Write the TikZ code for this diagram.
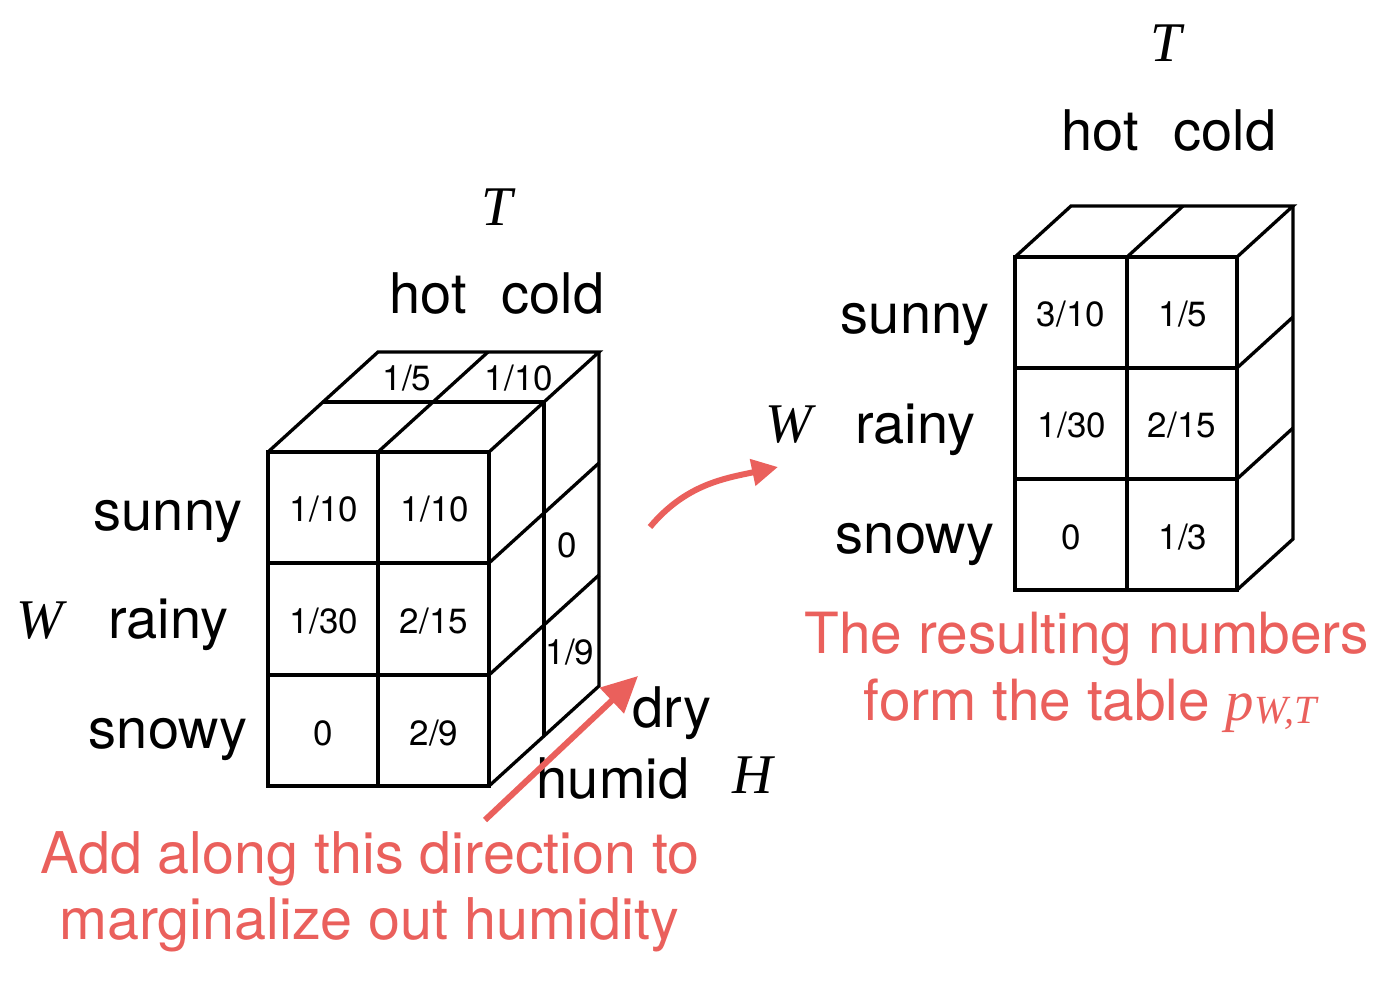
\documentclass[tikz,border=0pt]{standalone}
\usepackage{fontspec}
\setmainfont{TeX Gyre Heros}
\newfontfamily\serifit{Liberation Serif}
\usetikzlibrary{arrows.meta}
\definecolor{redc}{RGB}{234,96,92}
\tikzset{
  grid/.style={line width=3.3pt, black},
  cell/.style={font=\fontsize{35}{40}\selectfont, inner sep=0pt},
  lab/.style={font=\fontsize{56}{60}\selectfont, inner sep=0pt, anchor=base},
  var/.style={font=\fontsize{56}{60}\selectfont\serifit\itshape, inner sep=0pt, anchor=base},
  note/.style={font=\fontsize{57.5}{66}\selectfont, text=redc, align=center, inner sep=0pt, anchor=base},
  rnote/.style={note, font=\fontsize{56.8}{66}\selectfont},
  redarrow/.style={line width=6pt, draw=redc},
}
\begin{document}
\begin{tikzpicture}[x=1pt,y=-1pt]
\useasboundingbox (0,0) rectangle (1386,982);
% ---------- left cube ----------
\draw[grid] (268,452) rectangle (489,786);
\draw[grid] (378,452) -- (378,786);
\draw[grid] (268,563) -- (489,563);
\draw[grid] (268,675) -- (489,675);
\draw[grid] (268,452) -- (378,352) -- (599,352) -- (489,452);
\draw[grid] (378,452) -- (488,352);
\draw[grid] (323,402) -- (544,402);
\draw[grid] (599,352) -- (599,686) -- (489,786);
\draw[grid] (544,402) -- (544,736);
\draw[grid] (489,563) -- (599,463);
\draw[grid] (489,675) -- (599,575);
% cell values
\node[cell] (l11) at (324,509) {1/10};
\node[cell] (l12) at (435,509) {1/10};
\node[cell] (l21) at (324,621) {1/30};
\node[cell] (l22) at (434,621) {2/15};
\node[cell] (l31) at (323,733) {0};
\node[cell] (l32) at (434,733) {2/9};
\node[cell] (lt1) at (407,378) {1/5};
\node[cell] (lt2) at (519,378) {1/10};
\node[cell] (lr1) at (567,545) {0};
\node[cell] (lr2) at (570,652) {1/9};
% labels
\node[var] (lT) at (497,225) {T};
\node[lab] (lhot) at (428,313) {hot};
\node[lab] (lcold) at (553,313) {cold};
\node[lab] (lsunny) at (168,530) {sunny};
\node[lab] (lrainy) at (168,638) {rainy};
\node[lab] (lsnowy) at (168,748) {snowy};
\node[var] (lW) at (40,638) {W};
\node[lab] (ldry) at (672,727) {dry};
\node[lab] (lhumid) at (613,798) {humid};
\node[var] (lH) at (753,793) {H};
% ---------- right table ----------
\draw[grid] (1015,257) rectangle (1237,590);
\draw[grid] (1127,257) -- (1127,590);
\draw[grid] (1015,368) -- (1237,368);
\draw[grid] (1015,479) -- (1237,479);
\draw[grid] (1015,257) -- (1071,206) -- (1293,206) -- (1237,257);
\draw[grid] (1127,257) -- (1183,206);
\draw[grid] (1293,206) -- (1293,539) -- (1237,590);
\draw[grid] (1237,368) -- (1293,317);
\draw[grid] (1237,479) -- (1293,428);
\node[cell] (r11) at (1071,314) {3/10};
\node[cell] (r12) at (1183,314) {1/5};
\node[cell] (r21) at (1072,425) {1/30};
\node[cell] (r22) at (1182,425) {2/15};
\node[cell] (r31) at (1071,537) {0};
\node[cell] (r32) at (1183,537) {1/3};
\node[var] (rT) at (1166,62) {T};
\node[lab] (rhot) at (1100,150) {hot};
\node[lab] (rcold) at (1225,150) {cold};
\node[lab] (rsunny) at (915,333) {sunny};
\node[lab] (rrainy) at (915,443) {rainy};
\node[lab] (rsnowy) at (915,553) {snowy};
\node[var] (rW) at (789,442) {W};
% ---------- notes ----------
\node[note] (addnote1) at (370,873) {Add along this direction to};
\node[note] (addnote2) at (369,939) {marginalize out humidity};
\node[rnote] (resnote1) at (1087,653) {The resulting numbers};
\node[rnote] (resnote2) at (1090,720) {form the table {\serifit\itshape p\raisebox{-3pt}{\fontsize{40}{44}\selectfont W,T}}};
% ---------- arrows ----------
\coordinate (a1s) at (485,820);
\coordinate (a1e) at (638,676);
\draw[redarrow, -{Triangle[length=36pt,width=34pt]}] (a1s) -- (a1e);
\coordinate (a2s) at (650,527);
\coordinate (a2e) at (778,467);
\draw[redarrow, -{Triangle[length=26pt,width=26pt]}] (a2s) to[out=50,in=192] (a2e);
\end{tikzpicture}
\end{document}
